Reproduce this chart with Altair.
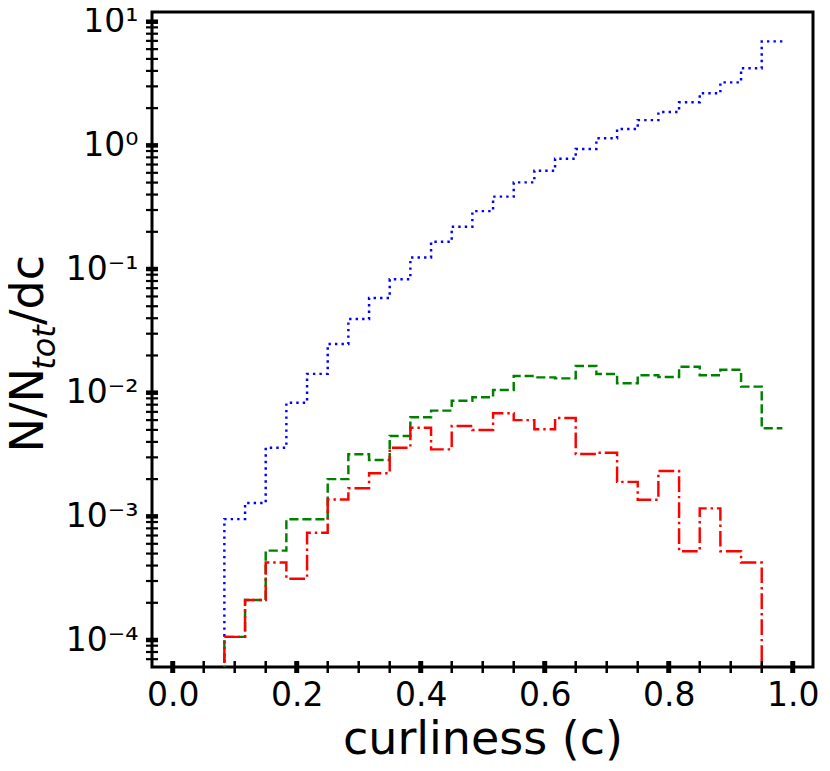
import altair as alt
import pandas as pd

# bin positions (step-before: value k spans from x[k-1] to x[k])
x_pos = [0.0167, 0.05, 0.0833, 0.1167, 0.15, 0.1833, 0.2167, 0.25, 0.2833, 0.3167,
         0.35, 0.3833, 0.4167, 0.45, 0.4833, 0.5167, 0.55, 0.5833, 0.6167, 0.65,
         0.6833, 0.7167, 0.75, 0.7833, 0.8167, 0.85, 0.8833, 0.9167, 0.95, 0.9833]

blue_vals = [0, 0, 0, 9.5e-4, 1.28e-3, 3.59e-3, 8.3e-3, 0.0142, 0.0248, 0.0394,
             0.0583, 0.0826, 0.124, 0.166, 0.220, 0.294, 0.385, 0.502, 0.624, 0.78,
             0.935, 1.14, 1.355, 1.60, 1.86, 2.23, 2.64, 3.23, 4.20, 6.93]

green_vals = [0, 0, 0, 1.06e-4, 2.11e-4, 5.28e-4, 9.46e-4, 9.46e-4, 2.0e-3, 3.18e-3,
              2.86e-3, 4.47e-3, 6.32e-3, 7.16e-3, 8.61e-3, 9.18e-3, 0.0105, 0.01365, 0.0133, 0.01306,
              0.01644, 0.01416, 0.0119, 0.01384, 0.0134, 0.01622, 0.01384, 0.01535, 0.0112, 5.15e-3]

red_vals = [0, 0, 0, 1.06e-4, 2.11e-4, 4.23e-4, 3.13e-4, 7.38e-4, 1.37e-3, 1.69e-3,
            2.23e-3, 3.59e-3, 5.21e-3, 3.48e-3, 5.38e-3, 4.99e-3, 6.81e-3, 6.0e-3, 5.06e-3, 6.24e-3,
            3.19e-3, 3.27e-3, 1.90e-3, 1.36e-3, 2.33e-3, 5.22e-4, 1.16e-3, 5.22e-4, 4.23e-4, 0]

x_major = [0.0, 0.2, 0.4, 0.6, 0.8, 1.0]
x_minor = [0.05, 0.1, 0.15, 0.25, 0.3, 0.35, 0.45, 0.5, 0.55, 0.65, 0.7, 0.75, 0.85, 0.9, 0.95]
y_major = [1e-4, 1e-3, 1e-2, 1e-1, 1.0, 10.0]
y_labels = ["10\u207b\u2074", "10\u207b\u00b3", "10\u207b\u00b2", "10\u207b\u00b9", "10\u2070", "10\u00b9"]
y_minor_mult = [2, 3, 4, 5, 6, 7, 8, 9]
y_minor_decades = [1e-5, 1e-4, 1e-3, 1e-2, 1e-1, 1.0]

x_title = "curliness (c)"
y_title_parts = ["N/N", "tot", "/dc"]

X_DOMAIN = [-0.0334, 1.0327]
Y_DOMAIN = [6.05e-5, 11.98]
W, H = 661, 655

y_minor = [m * d for d in y_minor_decades for m in y_minor_mult
           if Y_DOMAIN[0] < m * d < Y_DOMAIN[1]]

xscale = alt.Scale(domain=X_DOMAIN, nice=False, zero=False)
yscale = alt.Scale(type="log", domain=Y_DOMAIN, nice=False)

label_expr = ""
for v, lab in zip(y_major[::-1][:-1], y_labels[::-1][:-1]):
    label_expr += f"datum.value > {v / 2} ? '{lab}' : "
label_expr += f"'{y_labels[0]}'"

xax = alt.Axis(values=x_major, format=".1f", ticks=False, tickSize=0, domain=False,
               grid=False, labelFontSize=33, labelPadding=12, labelColor="black",
               labelFont="DejaVu Sans", labelFlush=False, labelOverlap=False,
               title=x_title, titleFontSize=46, titleFontWeight="normal",
               titleFont="DejaVu Sans", titleColor="black",
               titleBaseline="alphabetic", titleY=86)
yax = alt.Axis(values=y_major, labelExpr=label_expr, ticks=False, tickSize=0,
               domain=False, grid=False, labelFontSize=33, labelPadding=14,
               labelColor="black", labelFont="DejaVu Sans", labelFlush=False,
               labelOverlap=False, title="")


def series_layer(vals, color, dash):
    df = pd.DataFrame({"x": x_pos, "v": vals})
    return (
        alt.Chart(df)
        .transform_calculate(vv="datum.v > 0 ? datum.v : 1e-7")
        .mark_line(interpolate="step-before", clip=True, color=color,
                   strokeWidth=2.45, strokeDash=dash)
        .encode(x=alt.X("x:Q", scale=xscale, axis=xax),
                y=alt.Y("vv:Q", scale=yscale, axis=yax))
    )


blue = series_layer(blue_vals, "#0000ff", [2.4, 4.1])
green = series_layer(green_vals, "#008000", [9.1, 3.9])
red = series_layer(red_vals, "#ff0000", [15.7, 3.9, 2.45, 3.9])


def xtick_layer(vals, sw):
    return (
        alt.Chart(pd.DataFrame({"t": vals}))
        .mark_rule(color="black", strokeWidth=sw)
        .encode(x=alt.X("t:Q", scale=xscale, axis=xax),
                y=alt.value(H - 6), y2=alt.value(H + 6))
    )


def ytick_layer(vals, sw):
    return (
        alt.Chart(pd.DataFrame({"t": vals}))
        .mark_rule(color="black", strokeWidth=sw)
        .encode(y=alt.Y("t:Q", scale=yscale, axis=yax),
                x=alt.value(-6), x2=alt.value(6))
    )


def title_part(text, x, y, size, style):
    return (
        alt.Chart(pd.DataFrame({"s": [text]}))
        .mark_text(angle=270, align="left", baseline="alphabetic", fontSize=size,
                   font="DejaVu Sans", fontStyle=style, color="black")
        .encode(text="s:N", x=alt.value(x), y=alt.value(y))
    )


yt1 = title_part(y_title_parts[0], -109, 440.5, 46, "normal")
yt2 = title_part(y_title_parts[1], -97, 357.8, 32, "italic")
yt3 = title_part(y_title_parts[2], -109, 313.0, 46, "normal")

chart = (
    alt.layer(blue, green, red,
              xtick_layer(x_minor, 2.5), xtick_layer(x_major, 5),
              ytick_layer(y_minor, 2.2), ytick_layer(y_major, 4.5),
              yt1, yt2, yt3)
    .properties(width=W, height=H,
                autosize=alt.AutoSizeParams(type="none"),
                padding={"left": 144, "top": 4, "right": 9, "bottom": 96})
    .configure(font="DejaVu Sans")
    .configure_view(stroke="black", strokeWidth=3)
)

chart.save("out.html", embed_options={"renderer": "svg", "actions": False})
